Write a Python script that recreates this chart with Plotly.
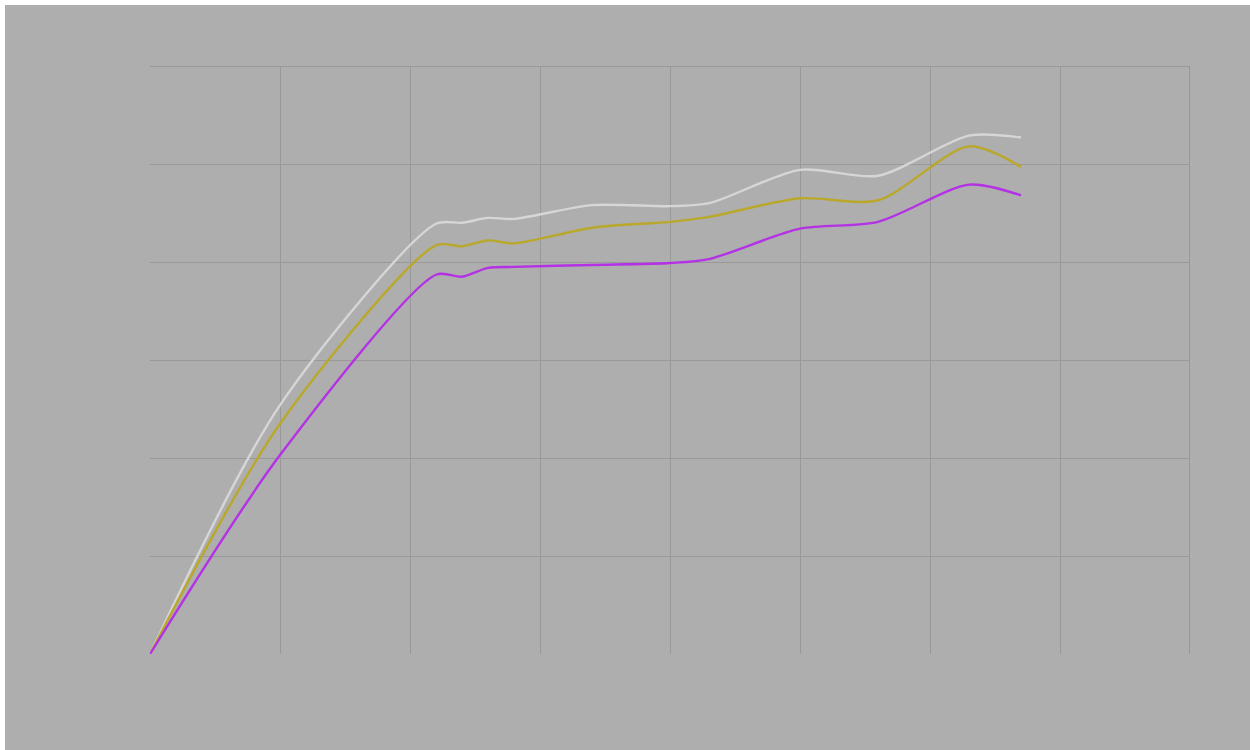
import plotly.graph_objects as go

# Sample positions along the horizontal axis
x_vals = [0, 1, 2.2, 2.4, 2.6, 2.8, 3.4, 4, 4.3, 5, 5.6, 6.3, 6.7]

# Series values
light_vals = [0, 2.54, 4.39, 4.40, 4.45, 4.44, 4.58, 4.57, 4.60, 4.94, 4.88, 5.29, 5.27]
olive_vals = [0, 2.35, 4.17, 4.16, 4.22, 4.19, 4.35, 4.41, 4.46, 4.65, 4.63, 5.18, 4.97]
purple_vals = [0, 2.03, 3.87, 3.85, 3.94, 3.95, 3.97, 3.99, 4.03, 4.34, 4.41, 4.79, 4.68]

x_grid = [1, 2, 3, 4, 5, 6, 7, 8]
y_grid = [1, 2, 3, 4, 5, 6]

W, H = 1250, 750
ML, MR, MT, MB = 150, 60, 66, 96
PW, PH = W - ML - MR, H - MT - MB
BG = "#aeaeae"
GRID = "#999999"

fig = go.Figure()
for vals, color in [(light_vals, "#d6d6d6"), (olive_vals, "#b9a82a"), (purple_vals, "#b431e6")]:
    fig.add_trace(go.Scatter(
        x=x_vals, y=vals, mode="lines",
        line=dict(color=color, width=2.4, shape="spline", smoothing=0.8),
        hoverinfo="skip", showlegend=False,
    ))

# grey canvas inset from the top-left corner
fig.add_shape(
    type="rect", xref="paper", yref="paper", layer="below",
    x0=(5 - ML) / PW, x1=(W - ML) / PW,
    y0=(MT + PH - H) / PH, y1=(MT + PH - 5) / PH,
    fillcolor=BG, line=dict(width=0),
)

# outer grid lines on the top and right edges of the plot area
fig.add_shape(type="line", xref="x", yref="y", layer="below",
              x0=0, x1=x_grid[-1], y0=y_grid[-1], y1=y_grid[-1],
              line=dict(color=GRID, width=2))
fig.add_shape(type="line", xref="x", yref="y", layer="below",
              x0=x_grid[-1], x1=x_grid[-1], y0=0, y1=y_grid[-1],
              line=dict(color=GRID, width=2))

fig.update_layout(
    width=W, height=H,
    margin=dict(l=ML, r=MR, t=MT, b=MB),
    paper_bgcolor="white",
    plot_bgcolor="rgba(0,0,0,0)",
    showlegend=False,
)
fig.update_xaxes(
    range=[0, 8], tickvals=x_grid, showticklabels=False, ticks="",
    showgrid=True, gridcolor=GRID, gridwidth=1, zeroline=False, showline=False,
)
fig.update_yaxes(
    range=[0, 6], tickvals=y_grid, showticklabels=False, ticks="",
    showgrid=True, gridcolor=GRID, gridwidth=1, zeroline=False, showline=False,
)

fig.write_html("out.html")
